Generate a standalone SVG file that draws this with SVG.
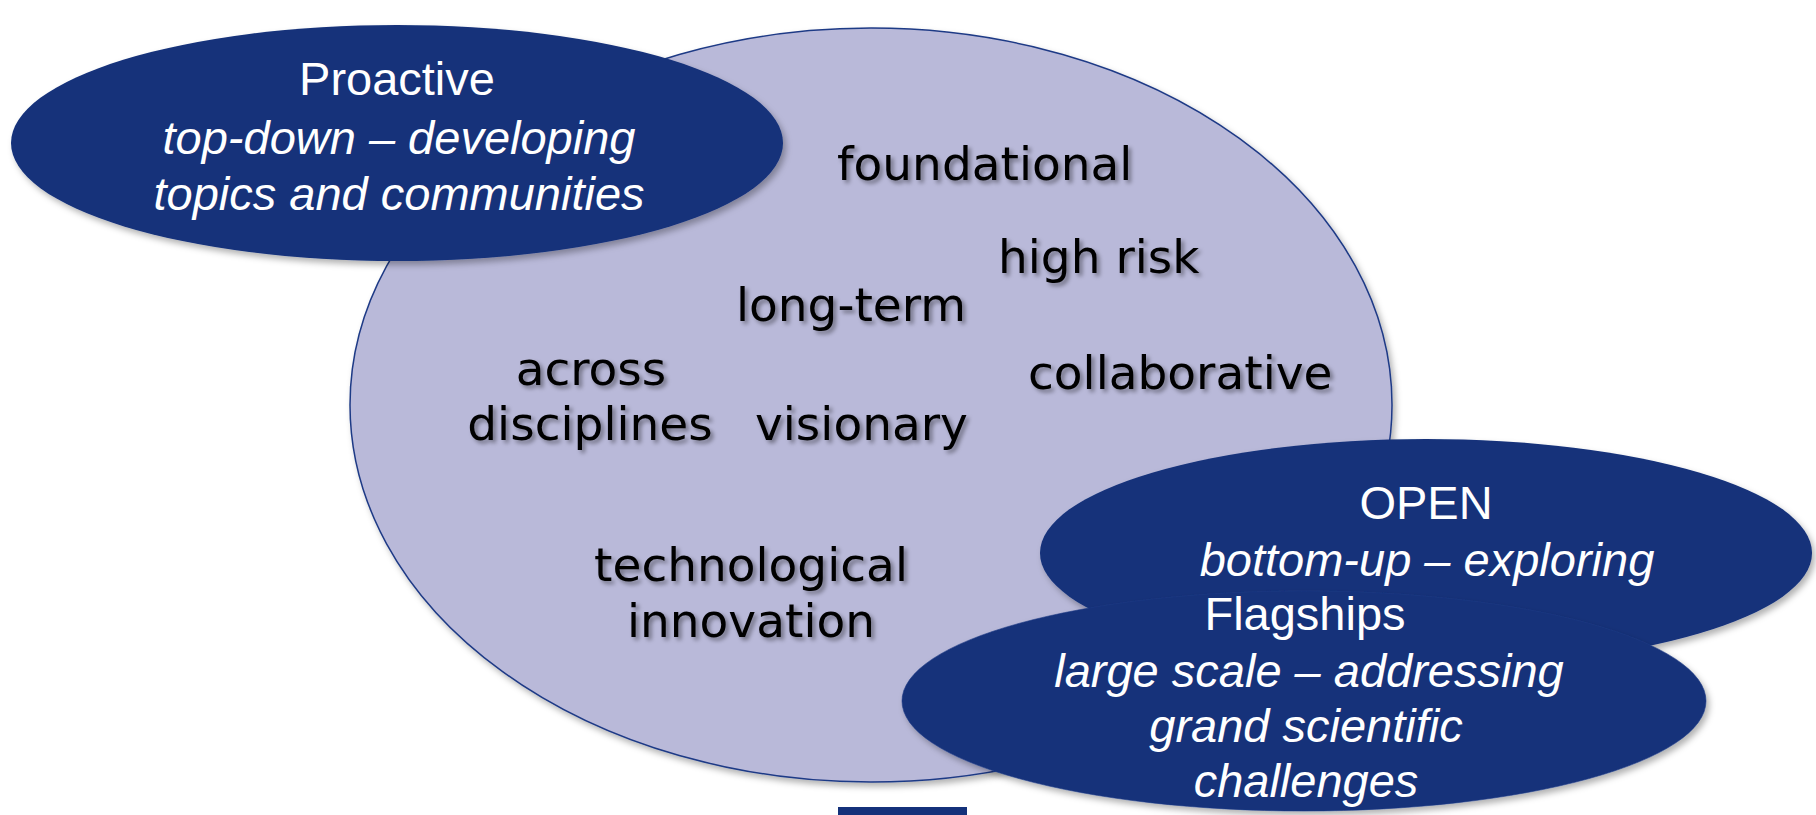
<svg xmlns="http://www.w3.org/2000/svg" width="1816" height="815" viewBox="0 0 1816 815">
<defs>
<filter id="sh" x="-10%" y="-10%" width="125%" height="130%"><feDropShadow dx="3" dy="4" stdDeviation="3" flood-color="#000" flood-opacity="0.3"/></filter>
<filter id="tsh" x="-5%" y="-20%" width="115%" height="150%"><feDropShadow dx="3" dy="3" stdDeviation="2" flood-color="#000" flood-opacity="0.4"/></filter>
</defs>
<style>
.main{fill:#B9B9D9;stroke:#1F3A86;stroke-width:1.5}
.dark{fill:#14317A}
.bt{font-family:"DejaVu Sans",Verdana,sans-serif;font-size:47px;fill:#000}
.wt{font-family:"Liberation Sans",Arial,sans-serif;font-size:47px;fill:#fff;text-anchor:middle}
.it{font-style:italic}
</style>
<rect width="1816" height="815" fill="#fff"/>
<g id="main-oval">
<ellipse class="main" cx="871" cy="405" rx="521" ry="377" filter="url(#sh)"/>
</g>
<g id="proactive">
<ellipse class="dark" cx="397" cy="143" rx="386" ry="118" filter="url(#sh)"/>
<text class="wt" x="397" y="95">Proactive</text>
<text class="wt it" x="399" y="154">top-down – developing</text>
<text class="wt it" x="399" y="210">topics and communities</text>
</g>
<g id="open">
<ellipse class="dark" cx="1426" cy="553" rx="386" ry="114" filter="url(#sh)"/>
</g>
<g id="flagships">
<ellipse class="dark" cx="1304" cy="701" rx="402" ry="110" stroke="#1E3A84" stroke-width="1" stroke-opacity="0.6" filter="url(#sh)"/>
</g>
<g id="open-text">
<text class="wt" x="1426" y="519">OPEN</text>
<text class="wt it" x="1427" y="576">bottom-up – exploring</text>
</g>
<g id="flagships-text">
<text class="wt" x="1305" y="630">Flagships</text>
<text class="wt it" x="1309" y="687">large scale – addressing</text>
<text class="wt it" x="1306" y="742">grand scientific</text>
<text class="wt it" x="1306" y="797">challenges</text>
</g>
<g id="keywords" filter="url(#tsh)">
<text class="bt" x="837" y="180">foundational</text>
<text class="bt" x="998" y="273">high risk</text>
<text class="bt" x="736" y="321">long-term</text>
<text class="bt" x="591" y="385" text-anchor="middle">across</text>
<text class="bt" x="590" y="440" text-anchor="middle">disciplines</text>
<text class="bt" x="755" y="440">visionary</text>
<text class="bt" x="1028" y="389">collaborative</text>
<text class="bt" x="751" y="581" text-anchor="middle">technological</text>
<text class="bt" x="751" y="637" text-anchor="middle">innovation</text>
</g>
<g id="connectors"></g>
<rect x="838" y="807" width="129" height="8" fill="#14317A"/>
</svg>
